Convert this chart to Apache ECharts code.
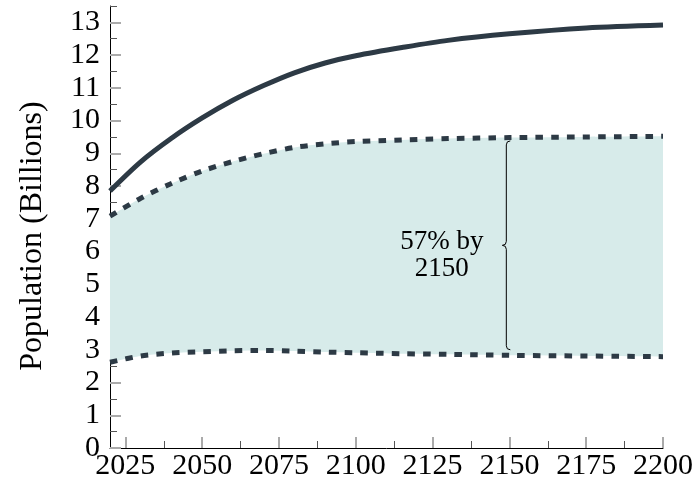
<!DOCTYPE html>
<html>
<head>
<meta charset="utf-8">
<script src="https://cdn.jsdelivr.net/npm/echarts@6/dist/echarts.min.js"></script>
<style>html,body{margin:0;padding:0;background:#fff}#c{width:696px;height:486px}</style>
</head>
<body>
<div id="c"></div>
<script>
// ---- data ----
const years = [2020, 2030, 2040, 2050, 2060, 2070, 2080, 2090, 2100, 2115, 2130, 2150, 2175, 2200];
const total = [7.85, 8.74, 9.46, 10.08, 10.62, 11.07, 11.46, 11.76, 11.98, 12.23, 12.45, 12.65, 12.83, 12.92];
const upperBound = [7.08, 7.63, 8.08, 8.46, 8.75, 8.99, 9.18, 9.29, 9.36, 9.41, 9.45, 9.48, 9.50, 9.52];
const lowerBound = [2.62, 2.81, 2.90, 2.94, 2.97, 2.98, 2.96, 2.93, 2.91, 2.88, 2.86, 2.83, 2.81, 2.79];
const xTickLabels = [2025, 2050, 2075, 2100, 2125, 2150, 2175, 2200];
const xMinorTicks = [2037.5, 2062.5, 2087.5, 2112.5, 2137.5, 2162.5, 2187.5];
const yTickLabels = [0, 1, 2, 3, 4, 5, 6, 7, 8, 9, 10, 11, 12, 13];
const yMinorTicks = [0.5, 1.5, 2.5, 3.5, 4.5, 5.5, 6.5, 7.5, 8.5, 9.5, 10.5, 11.5, 12.5, 13.5];
const braceYear = 2149;
const braceRange = [3.0, 9.38];
const annotationText = '57% by\n2150';
const annotationPos = [2128, 5.87];
const yTitle = 'Population (Billions)';

// ---- chart ----
const FONT = 'Liberation Serif';
const LINE = '#2d3a45';
const SMOOTH = 0.3;
const pair = (ys) => years.map((x, i) => [x, ys[i]]);

// same bezier smoothing scheme that the line series uses, for the band fill edges
function smoothSegment(pts, s, first) {
  let d = '';
  let cpx0, cpy0;
  const n = pts.length;
  for (let i = 0; i < n; i++) {
    const x = pts[i][0], y = pts[i][1];
    if (i === 0) {
      d += (first ? 'M ' : 'L ') + x + ' ' + y + ' ';
      cpx0 = x; cpy0 = y;
      continue;
    }
    const prevX = pts[i - 1][0], prevY = pts[i - 1][1];
    let cpx1, cpy1, nCpx0, nCpy0;
    if (i === n - 1) {
      cpx1 = x; cpy1 = y;
    } else {
      const nextX = pts[i + 1][0], nextY = pts[i + 1][1];
      let vx = nextX - prevX, vy = nextY - prevY;
      const lp = Math.hypot(x - prevX, y - prevY);
      const ln = Math.hypot(nextX - x, nextY - y);
      const r = ln / (ln + lp);
      nCpx0 = x + vx * s * r; nCpy0 = y + vy * s * r;
      nCpx0 = Math.min(nCpx0, Math.max(nextX, x)); nCpy0 = Math.min(nCpy0, Math.max(nextY, y));
      nCpx0 = Math.max(nCpx0, Math.min(nextX, x)); nCpy0 = Math.max(nCpy0, Math.min(nextY, y));
      vx = nCpx0 - x; vy = nCpy0 - y;
      cpx1 = x - vx * lp / ln; cpy1 = y - vy * lp / ln;
      cpx1 = Math.min(cpx1, Math.max(prevX, x)); cpy1 = Math.min(cpy1, Math.max(prevY, y));
      cpx1 = Math.max(cpx1, Math.min(prevX, x)); cpy1 = Math.max(cpy1, Math.min(prevY, y));
      vx = x - cpx1; vy = y - cpy1;
      nCpx0 = x + vx * ln / lp; nCpy0 = y + vy * ln / lp;
    }
    d += `C ${cpx0} ${cpy0} ${cpx1} ${cpy1} ${x} ${y} `;
    cpx0 = nCpx0; cpy0 = nCpy0;
  }
  return d;
}

const chart = echarts.init(document.getElementById('c'), null, {renderer: 'canvas'});
chart.setOption({
  animation: false,
  grid: {left: 110, right: 31, top: 6, bottom: 38},
  xAxis: [
    {
      type: 'value', min: 2020, max: 2200,
      axisLine: {show: true, lineStyle: {color: '#000', width: 1}},
      axisTick: {show: true, inside: true, length: 11, customValues: xTickLabels, lineStyle: {color: '#aaa', width: 2}},
      axisLabel: {customValues: xTickLabels, formatter: (v) => String(v), color: '#000', fontFamily: FONT, fontSize: 30, margin: 3},
      splitLine: {show: false}
    },
    {
      type: 'value', min: 2020, max: 2200, position: 'bottom',
      axisLine: {show: false},
      axisTick: {show: true, inside: true, length: 7, customValues: xMinorTicks, lineStyle: {color: '#555', width: 1}},
      axisLabel: {show: false},
      splitLine: {show: false}
    }
  ],
  yAxis: [
    {
      type: 'value', min: 0, max: 13.5,
      name: yTitle, nameLocation: 'middle', nameGap: 61,
      nameTextStyle: {color: '#000', fontFamily: FONT, fontSize: 32, padding: [0, 18, 0, 0]},
      axisLine: {show: true, lineStyle: {color: '#000', width: 1}},
      axisTick: {show: true, inside: true, length: 11, customValues: yTickLabels, lineStyle: {color: '#aaa', width: 2}},
      axisLabel: {customValues: yTickLabels, color: '#000', fontFamily: FONT, fontSize: 30, margin: 10},
      splitLine: {show: false}
    },
    {
      type: 'value', min: 0, max: 13.5, position: 'left',
      axisLine: {show: false},
      axisTick: {show: true, inside: true, length: 7, customValues: yMinorTicks, lineStyle: {color: '#555', width: 1}},
      axisLabel: {show: false},
      splitLine: {show: false}
    }
  ],
  series: [
    {
      type: 'custom', z: 1, silent: true,
      data: [[years[0], lowerBound[0]]],
      renderItem: function (params, api) {
        const up = years.map((x, i) => api.coord([x, upperBound[i]]));
        const lo = years.map((x, i) => api.coord([x, lowerBound[i]])).reverse();
        const path = smoothSegment(up, SMOOTH, true) + smoothSegment(lo, SMOOTH, false) + 'Z';
        return {type: 'path', shape: {pathData: path}, style: {fill: '#d7ebea', stroke: 'none'}};
      }
    },
    {type: 'line', data: pair(lowerBound), smooth: SMOOTH, symbol: 'none',
     lineStyle: {color: LINE, width: 5, type: [7.5, 8.2], cap: 'butt'}, z: 3},
    {type: 'line', data: pair(upperBound), smooth: SMOOTH, symbol: 'none',
     lineStyle: {color: LINE, width: 5, type: [7.5, 8.2], cap: 'butt'}, z: 3},
    {type: 'line', data: pair(total), smooth: SMOOTH, symbol: 'none',
     lineStyle: {color: LINE, width: 5}, z: 3},
    {
      type: 'custom', z: 4, silent: true,
      data: [[braceYear, braceRange[0], braceRange[1]]],
      renderItem: function (params, api) {
        const top = api.coord([api.value(0), api.value(2)]);
        const bot = api.coord([api.value(0), api.value(1)]);
        const x = top[0], yT = top[1], yB = bot[1], yM = (yT + yB) / 2;
        const r = 4;
        const path = `M ${x + r} ${yT} Q ${x} ${yT} ${x} ${yT + r} L ${x} ${yM - r} Q ${x} ${yM} ${x - r} ${yM} Q ${x} ${yM} ${x} ${yM + r} L ${x} ${yB - r} Q ${x} ${yB} ${x + r} ${yB}`;
        const tp = api.coord(annotationPos);
        return {
          type: 'group',
          children: [
            {type: 'path', shape: {pathData: path}, style: {fill: 'none', stroke: '#000', lineWidth: 1}},
            {type: 'text', x: tp[0], y: tp[1], style: {text: annotationText, fill: '#000', font: '27px "Liberation Serif"', align: 'center', verticalAlign: 'middle', lineHeight: 27}}
          ]
        };
      }
    }
  ]
});
</script>
</body>
</html>
